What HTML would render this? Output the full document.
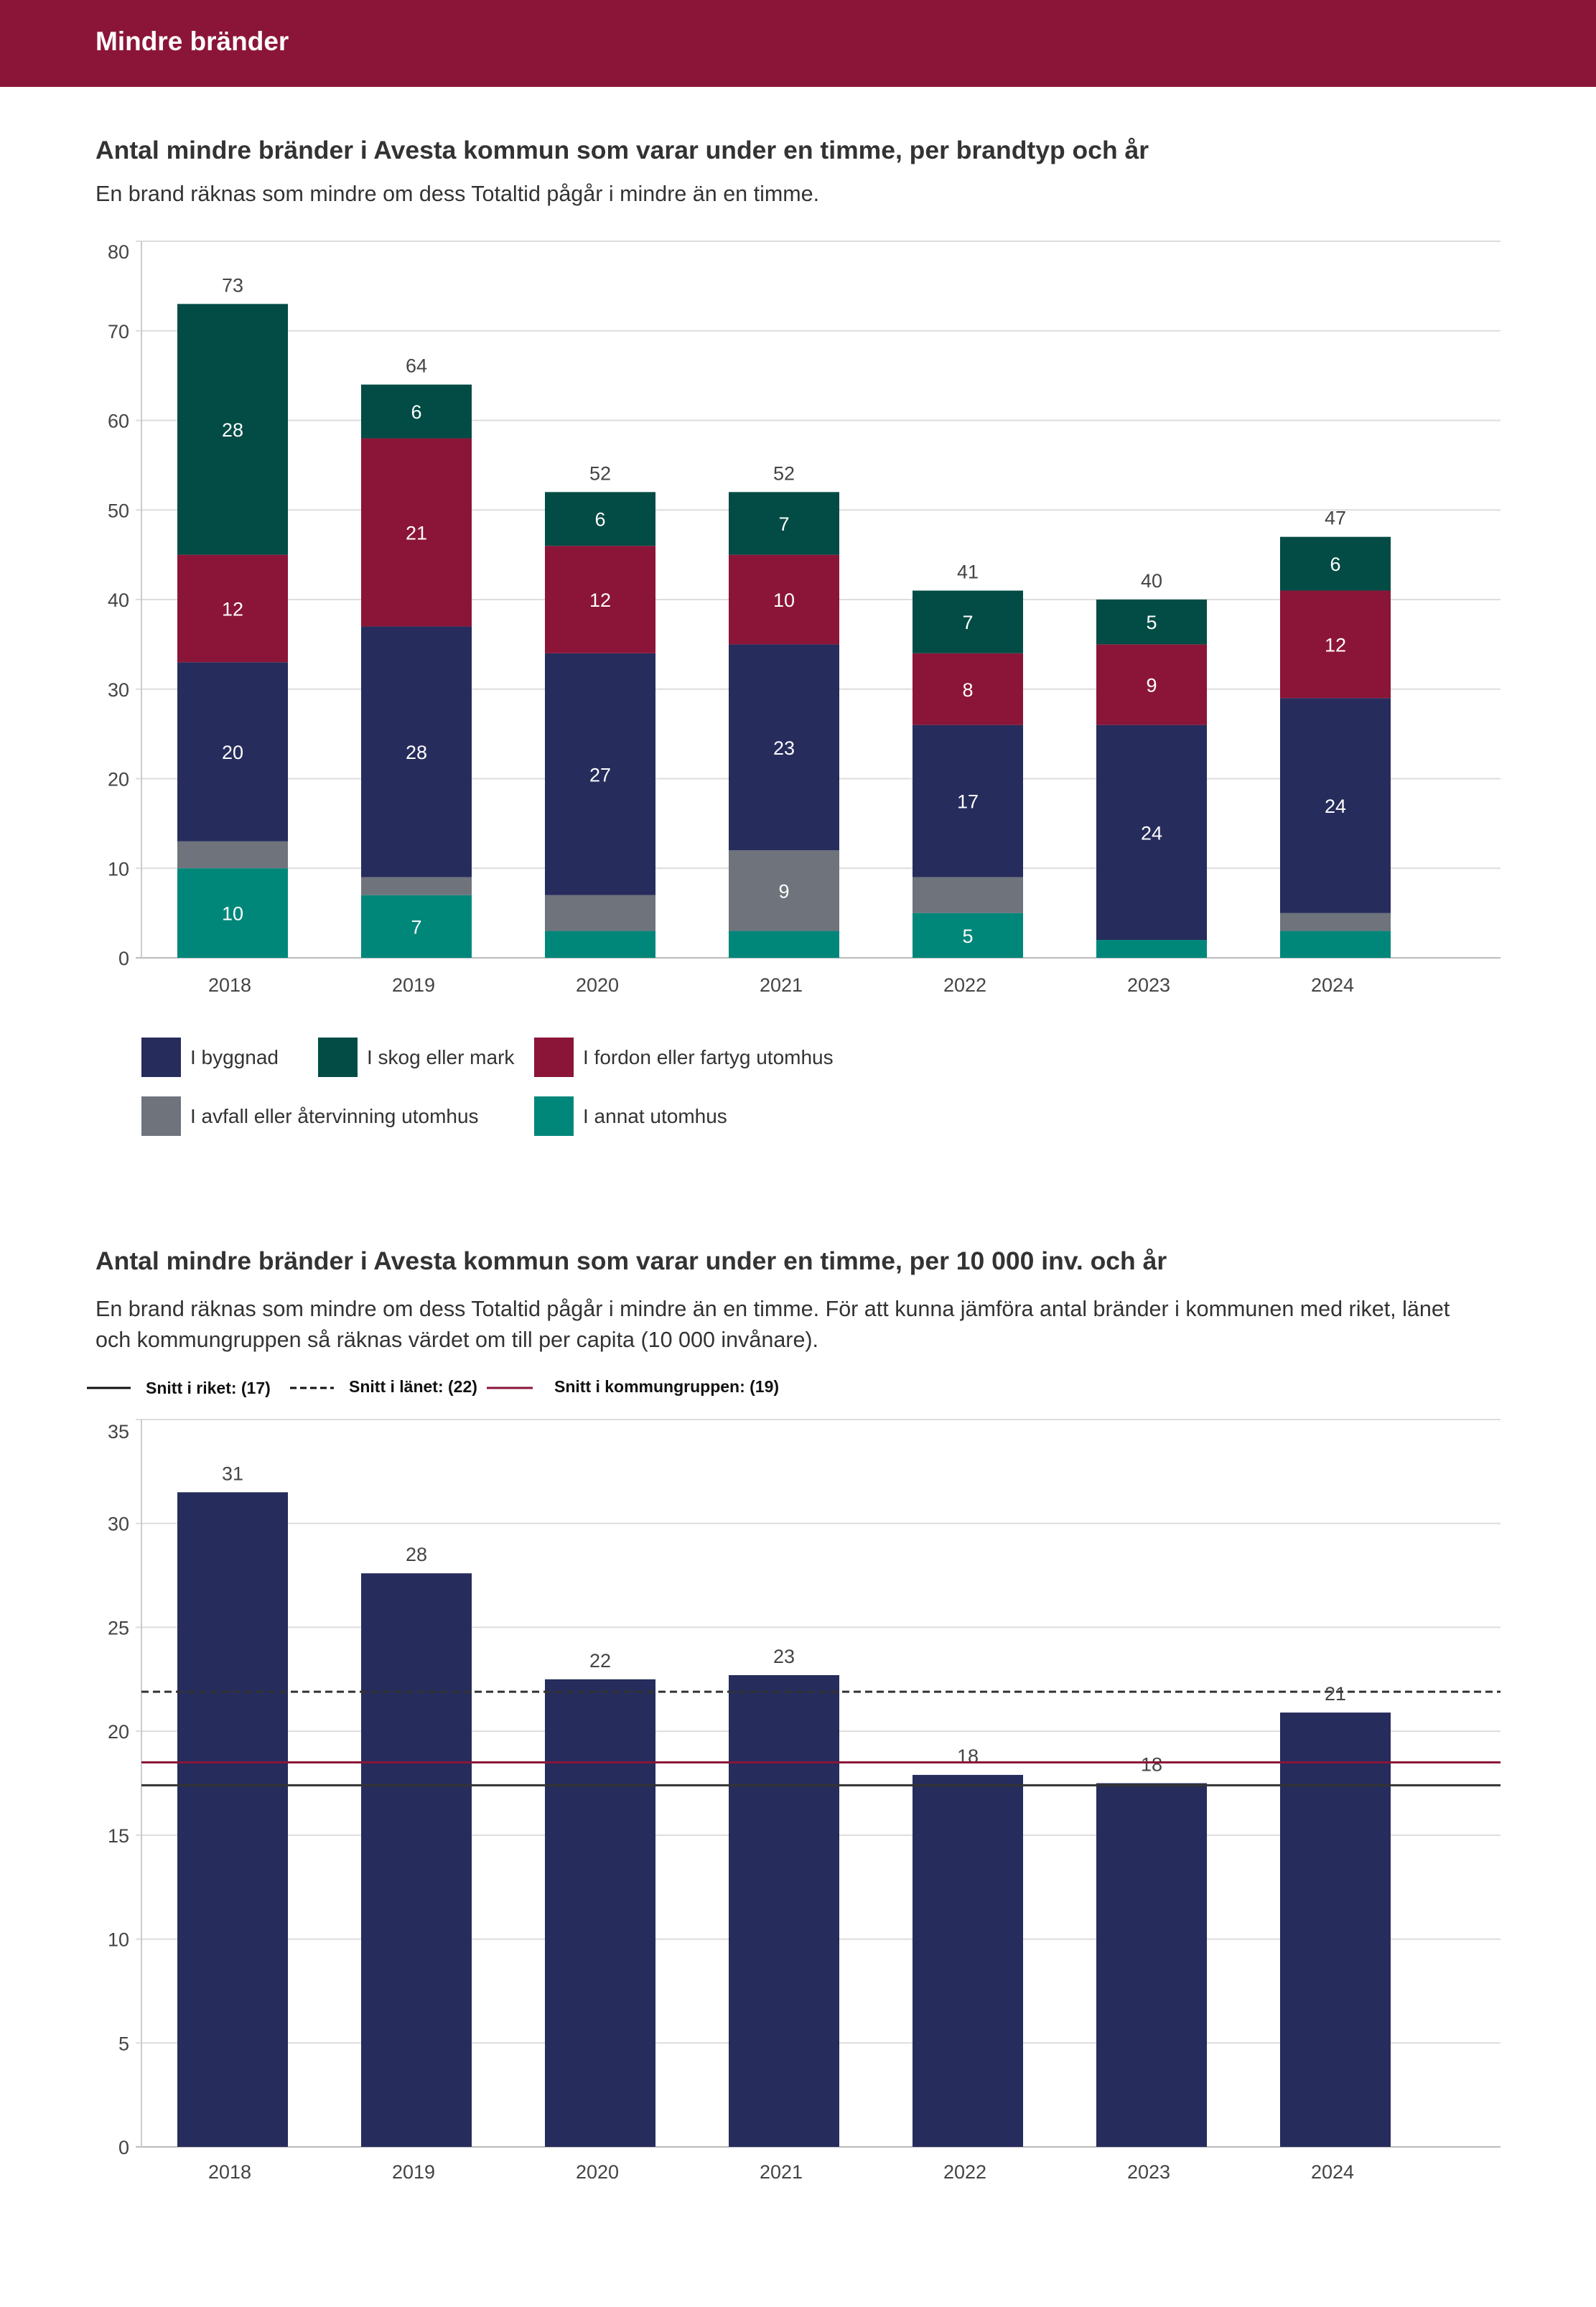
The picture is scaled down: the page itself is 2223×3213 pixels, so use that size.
<!DOCTYPE html>
<html><head><meta charset="utf-8"><style>
html,body{margin:0;padding:0;background:#fff;width:2223px;height:3213px;overflow:hidden;font-family:"Liberation Sans","DejaVu Sans",sans-serif;}
svg text{font-family:"Liberation Sans","DejaVu Sans",sans-serif;}
</style></head><body>
<svg id="s" width="2223" height="3213" xmlns="http://www.w3.org/2000/svg">
<rect x="0" y="0" width="2223" height="121" fill="#8b1538"/>
<text x="133" y="70" font-size="37" fill="#fff" font-weight="bold">Mindre bränder</text>
<text x="133" y="221" font-size="35.5" fill="#333" font-weight="bold">Antal mindre bränder i Avesta kommun som varar under en timme, per brandtyp och år</text>
<text x="133" y="280" font-size="30.5" fill="#333">En brand räknas som mindre om dess Totaltid pågår i mindre än en timme.</text>
<g id="c1"></g>
<g id="lg1"></g>
<text x="133" y="1768" font-size="35.5" fill="#333" font-weight="bold">Antal mindre bränder i Avesta kommun som varar under en timme, per 10 000 inv. och år</text>
<text x="133" y="1833" font-size="30.5" fill="#333">En brand räknas som mindre om dess Totaltid pågår i mindre än en timme. För att kunna jämföra antal bränder i kommunen med riket, länet</text>
<text x="133" y="1876" font-size="30.5" fill="#333">och kommungruppen så räknas värdet om till per capita (10 000 invånare).</text>
<g>
<line x1="121" y1="1933" x2="182" y2="1933" stroke="#111" stroke-width="3"/>
<text x="203" y="1941" font-size="23" font-weight="bold" fill="#111">Snitt i riket: (17)</text>
<line x1="404" y1="1933" x2="465" y2="1933" stroke="#111" stroke-width="3" stroke-dasharray="9,5"/>
<text x="486" y="1939" font-size="23" font-weight="bold" fill="#111">Snitt i länet: (22)</text>
<line x1="678" y1="1933" x2="742" y2="1933" stroke="#8b1538" stroke-width="3"/>
<text x="772" y="1939" font-size="23" font-weight="bold" fill="#111">Snitt i kommungruppen: (19)</text>
</g>
<g id="c2"></g>
</svg>
<script>
const years=["2018","2019","2020","2021","2022","2023","2024"];
const annat=[10,7,3,3,5,2,3];
const avfall=[3,2,4,9,4,0,2];
const byggnad=[20,28,27,23,17,24,24];
const fordon=[12,21,12,10,8,9,12];
const skog=[28,6,6,7,7,5,6];
const ticks1=[0,10,20,30,40,50,60,70,80];
const perCapita=[31.5,27.6,22.5,22.7,17.9,17.5,20.9];
const perCapitaLabels=["31","28","22","23","18","18","21"];
const ticks2=[0,5,10,15,20,25,30,35];
const riket=17.4, lanet=21.9, kommungrupp=18.5;

const NS="http://www.w3.org/2000/svg";
function mk(p,t,a,txt){const e=document.createElementNS(NS,t);for(const k in a)e.setAttribute(k,a[k]);if(txt!==undefined)e.textContent=txt;p.appendChild(e);return e;}
const L=197,R=2090,step=256,bw=154,x0=324;
function xc(i){return x0+i*step;}

// chart 1
const c1=document.getElementById('c1');
const y1=v=>1334-v*(998/80);
ticks1.forEach(t=>{
  const g=mk(c1,'line',{x1:L-8,x2:R,y1:y1(t),y2:y1(t),stroke:t===0?'#bbb':'#ddd','stroke-width':2});
  
  
  const tx=mk(c1,'text',{x:180,y:y1(t)+(t===80?24:10),'font-size':27,fill:'#444','text-anchor':'end'},String(t));
  
  
});
const ax=mk(c1,'line',{x1:L,x2:L,y1:y1(80),y2:y1(0),stroke:'#ccc','stroke-width':2});


const series=[[annat,'#00877a','annat'],[avfall,'#6f747c','avfall'],[byggnad,'#262c5c','byggnad'],[fordon,'#8b1538','fordon'],[skog,'#024c45','skog']];
years.forEach((yr,i)=>{
  let cum=0;
  series.forEach(([arr,col,nm])=>{
    const v=arr[i];
    if(v>0){
      const r=mk(c1,'rect',{x:xc(i)-bw/2,y:y1(cum+v),width:bw,height:y1(cum)-y1(cum+v),fill:col});
      
      
      if(v>=5){
        const t=mk(c1,'text',{x:xc(i),y:(y1(cum)+y1(cum+v))/2+10,'font-size':27,fill:'#fff','text-anchor':'middle'},String(v));
        
        
      }
    }
    cum+=v;
  });
  const tl=mk(c1,'text',{x:xc(i),y:y1(cum)-17,'font-size':27,fill:'#444','text-anchor':'middle'},String(cum));
  
  
  const xl=mk(c1,'text',{x:xc(i)-4,y:1381,'font-size':27,fill:'#444','text-anchor':'middle'},yr);
  
  
});
// legend 1
const lg=document.getElementById('lg1');
[[197,1445,'#262c5c','I byggnad'],[443,1445,'#024c45','I skog eller mark'],[744,1445,'#8b1538','I fordon eller fartyg utomhus'],[197,1527,'#6f747c','I avfall eller återvinning utomhus'],[744,1527,'#00877a','I annat utomhus']].forEach(([x,y,c,t])=>{
  const g=mk(lg,'g',{});
  
  
  mk(g,'rect',{x:x,y:y,width:55,height:55,fill:c});
  mk(g,'text',{x:x+68,y:y+37,'font-size':28,fill:'#333'},t);
});

// chart 2
const c2=document.getElementById('c2');
const y2=v=>2990-v*(1013/35);
ticks2.forEach(t=>{
  const g=mk(c2,'line',{x1:L-8,x2:R,y1:y2(t),y2:y2(t),stroke:t===0?'#bbb':'#ddd','stroke-width':2});
  
  
  const tx=mk(c2,'text',{x:180,y:y2(t)+(t===35?26:10),'font-size':27,fill:'#444','text-anchor':'end'},String(t));
  
  
});
const ax2=mk(c2,'line',{x1:L,x2:L,y1:y2(35),y2:y2(0),stroke:'#ccc','stroke-width':2});


years.forEach((yr,i)=>{
  const v=perCapita[i];
  const r=mk(c2,'rect',{x:xc(i)-bw/2,y:y2(v),width:bw,height:y2(0)-y2(v),fill:'#262c5c'});
  
  
  const t=mk(c2,'text',{x:xc(i),y:y2(v)-17,'font-size':27,fill:'#444','text-anchor':'middle'},perCapitaLabels[i]);
  
  
  const xl=mk(c2,'text',{x:xc(i)-4,y:3034,'font-size':27,fill:'#444','text-anchor':'middle'},yr);
  
  
});
const lr=mk(c2,'line',{x1:L,x2:R,y1:y2(riket),y2:y2(riket),stroke:'#333','stroke-width':3});


const ll=mk(c2,'line',{x1:L,x2:R,y1:y2(lanet),y2:y2(lanet),stroke:'#333','stroke-width':3,'stroke-dasharray':'10,6'});


const lk=mk(c2,'line',{x1:L,x2:R,y1:y2(kommungrupp),y2:y2(kommungrupp),stroke:'#8b1538','stroke-width':3});


</script>
</body></html>
